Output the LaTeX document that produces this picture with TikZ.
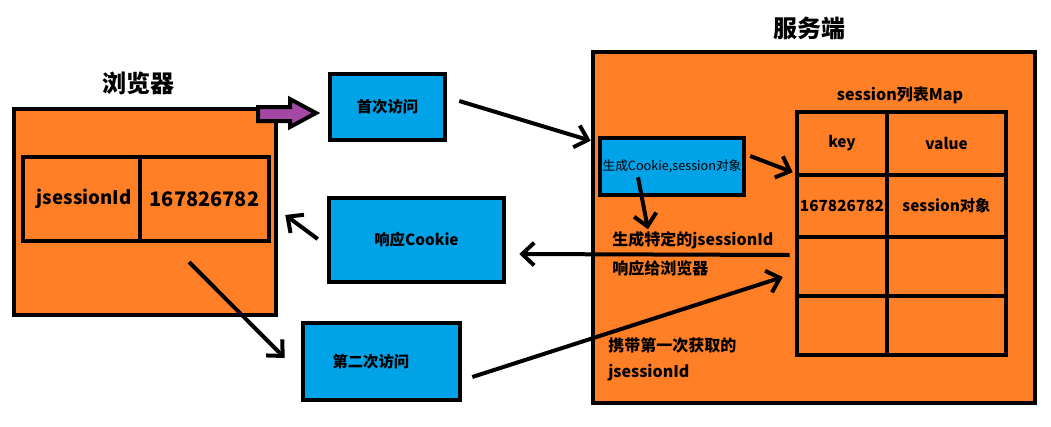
\documentclass[tikz,border=0pt]{standalone}
\usepackage{fontspec}
\setmainfont{Noto Sans CJK SC}
\usepackage{tikz}
\usetikzlibrary{calc,arrows.meta}
\definecolor{paintorange}{HTML}{FF7F27}
\definecolor{paintblue}{HTML}{00A2E8}
\definecolor{paintpurple}{HTML}{A349A4}
\begin{document}
\begin{tikzpicture}[x=0.75pt,y=-0.75pt,line width=3.4pt,
		box/.style 2 args={draw,fill=paintorange,minimum width={#1*0.75pt},minimum height={#2*0.75pt},inner sep=0pt},
		cell/.style 2 args={draw,fill=paintorange,minimum width={#1*0.75pt},minimum height={#2*0.75pt},inner sep=0pt,font=\bfseries\fontsize{11.5}{13}\selectfont},
		bluebox/.style 2 args={draw,fill=paintblue,minimum width={#1*0.75pt},minimum height={#2*0.75pt},inner sep=0pt,font=\bfseries\fontsize{11.5}{13}\selectfont},
		flow/.style={line width=3pt,-{Straight Barb[length=9pt,width=17pt,line width=3pt]}},
		note/.style={anchor=west,inner sep=0pt,font=\bfseries\fontsize{12}{14}\selectfont},
		title/.style={font=\bfseries\fontsize{18}{20}\selectfont}]
			\useasboundingbox (0,0) rectangle (1051,426);
			% browser side
			\node[box={262}{206}] (browser) at (145,212) {};
			\node[title] (browsertitle) at (138,83) {浏览器};
			\node[cell={117}{84},font=\bfseries\fontsize{14}{16}\selectfont] (bkey) at (81.5,199) {\hspace*{4pt}jsessionId};
			\node[cell={129}{84},font=\bfseries\fontsize{15}{17}\selectfont] (bval) at (204.5,199) {167826782};
			\draw [fill=paintpurple,line width=3pt,line join=miter] (258,107)-- (290,107)-- (290,99)-- (316,113)-- (290,127)-- (290,121)-- (258,121)-- cycle;
			% requests
			\node[bluebox={115}{66}] (visit1) at (387.5,107) {首次访问};
			\node[bluebox={175}{84}] (resp) at (416.5,240) {响应Cookie};
			\node[bluebox={157}{77}] (visit2) at (381.5,361.5) {\hspace*{-16pt}第二次访问};
			% server side
			\node[box={442}{351}] (server) at (814,227.5) {};
			\node[title] (servertitle) at (809,28) {服务端};
			\node[bluebox={144}{57},font=\fontsize{9.5}{11}\selectfont] (gen) at (672,166.5) {生成Cookie,session对象};
			\node[font=\bfseries\fontsize{12}{14}\selectfont] (maptitle) at (900,95) {session列表Map};
			\node[cell={90}{63}] (m11) at (842,143.5) {key};
			\node[cell={119}{63}] (m12) at (946.5,143.5) {value};
			\node[cell={90}{62}] (m21) at (842,206) {167826782};
			\node[cell={119}{62}] (m22) at (946.5,206) {session对象};
			\node[cell={90}{59}] (m31) at (842,266.5) {};
			\node[cell={119}{59}] (m32) at (946.5,266.5) {};
			\node[cell={90}{59}] (m41) at (842,325.5) {};
			\node[cell={119}{59}] (m42) at (946.5,325.5) {};
			\node[note] (genid) at (610,240) {生成特定的jsessionId};
			\node[note] (toclient) at (610,268) {响应给浏览器};
			\node[note] (carry) at (606,345) {携带第一次获取的};
			\node[note] (carryid) at (606,373) {jsessionId};
			% arrows
			\draw [flow] ($(visit1.east)+(12,-6)$)-- ($(gen.north west)+(-7,5)$);
			\draw [flow] ($(gen.east)+(4,-10.5)$)-- ($(m11.south west)+(-2,-5)$);
			\draw [flow] ($(gen.south)+(-34,-20)$)-- ($(gen.south)+(-24,32)$);
			\draw [flow] ($(m31.west)+(-5,-11.5)$)-- ($(resp.east)+(13,14)$);
			\draw [flow] ($(resp.west)+(-9,-1)$)-- ($(browser.east)+(7,3)$);
			\draw [flow] ($(browser.center)+(44,50)$)-- ($(visit2.west)+(-16,-3.5)$);
			\draw [flow] ($(visit2.east)+(10,15.5)$)-- ($(m31.west)+(-12,10.5)$);
		\end{tikzpicture}
\end{document}
